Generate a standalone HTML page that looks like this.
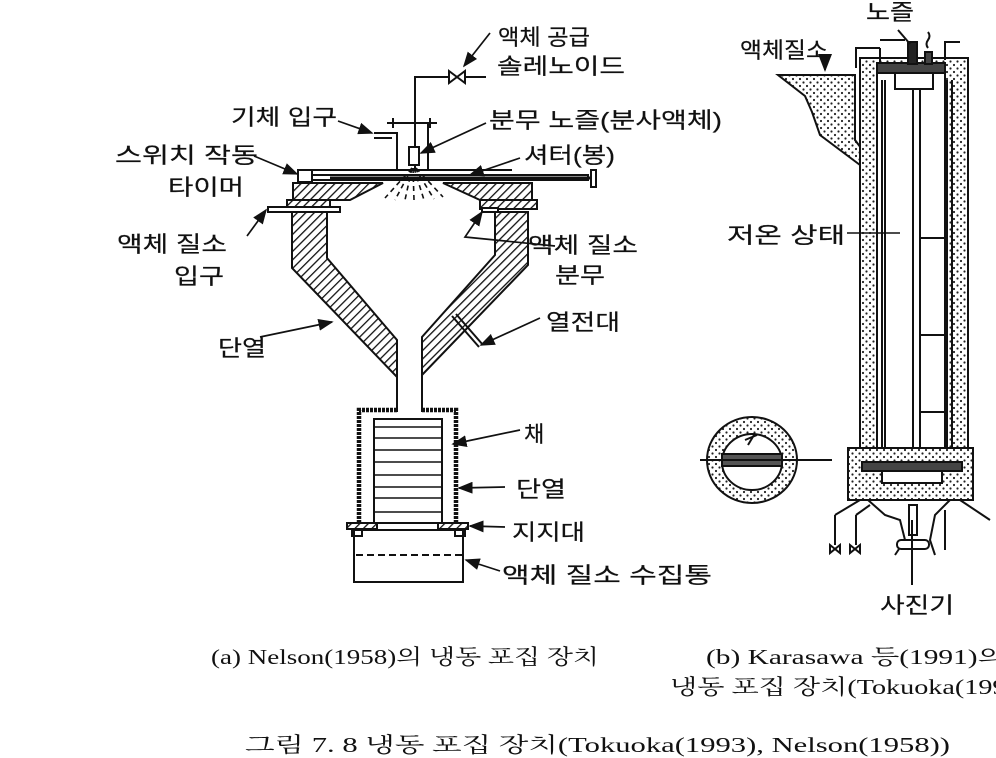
<!DOCTYPE html>
<html><head><meta charset="utf-8"><style>
html,body{margin:0;padding:0;background:#fff}
svg{display:block}
.t{font-family:"Liberation Sans","Noto Sans CJK KR",sans-serif;font-size:22px;fill:#111;stroke:#111;stroke-width:0.2}
.c{font-family:"Liberation Serif","Noto Serif CJK SC",serif;font-size:21px;fill:#111}
</style></head><body>
<svg width="996" height="758" viewBox="0 0 996 758" xmlns="http://www.w3.org/2000/svg">
<defs>
<pattern id="h" width="6" height="6" patternUnits="userSpaceOnUse" patternTransform="rotate(45)"><rect width="6" height="6" fill="#fff"/><line x1="0" y1="0" x2="0" y2="6" stroke="#111" stroke-width="2.6"/></pattern>
<pattern id="d" width="7" height="7" patternUnits="userSpaceOnUse"><rect width="7" height="7" fill="#fff"/><circle cx="2" cy="2" r="1.1" fill="#222"/><circle cx="5.5" cy="5.5" r="1.1" fill="#222"/></pattern>
<marker id="a" markerWidth="9" markerHeight="7" refX="8" refY="3.5" orient="auto"><path d="M0,0 L9,3.5 L0,7z" fill="#111"/></marker>
</defs>
<g stroke="#111" stroke-width="2" fill="none">
<polyline points="415,170 415,77 449,77"/>
<line x1="465" y1="77" x2="486" y2="77"/>
<path d="M449,71 L465,83 L465,71 L449,83z" fill="#fff"/>
<line x1="387" y1="123" x2="437" y2="123"/>
<line x1="393" y1="118" x2="393" y2="128"/><line x1="430" y1="118" x2="430" y2="128"/>
<polyline points="374,133 397,133 397,170"/>
<line x1="374" y1="138" x2="392" y2="138"/>
<polyline points="428,123 428,170"/>
<rect x="409" y="147" width="10" height="18" fill="#fff"/>
<line x1="312" y1="170" x2="512" y2="170"/>
<rect x="298" y="170" width="14" height="12" fill="#fff"/>
<rect x="312" y="175" width="276" height="5" fill="#fff"/>
<line x1="330" y1="178" x2="590" y2="178" stroke-width="3"/>
<rect x="591" y="170" width="5" height="17" fill="#fff"/>
<polygon points="293,183 383,183 350,200 293,200" fill="url(#h)"/>
<polygon points="443,183 532,183 532,200 480,200" fill="url(#h)"/>
<rect x="287" y="200" width="43" height="9" fill="url(#h)"/>
<rect x="480" y="200" width="57" height="9" fill="url(#h)"/>
<rect x="268" y="207" width="72" height="5" fill="#fff"/>
<rect x="482" y="208" width="16" height="4" fill="#fff"/>
<g stroke-width="1.6" stroke-dasharray="5,4">
<line x1="412" y1="168" x2="385" y2="198"/><line x1="412" y1="168" x2="395" y2="200"/><line x1="412" y1="168" x2="405" y2="200"/><line x1="413" y1="168" x2="414" y2="200"/><line x1="414" y1="168" x2="424" y2="200"/><line x1="415" y1="168" x2="434" y2="199"/><line x1="416" y1="168" x2="443" y2="197"/>
</g>
<polygon points="292,212 327,212 327,258 397,340 397,377 292,268" fill="url(#h)"/>
<polygon points="495,212 528,212 528,265 422,375 422,337 495,255" fill="url(#h)"/>
<line x1="397" y1="377" x2="397" y2="412"/><line x1="422" y1="375" x2="422" y2="412"/>
<line x1="452" y1="316" x2="479" y2="347"/><line x1="456" y1="314" x2="483" y2="345"/>
<polyline points="397,410 359,410 359,523" stroke-width="4.5" stroke-dasharray="3,1"/>
<polyline points="422,410 456,410 456,523" stroke-width="4.5" stroke-dasharray="3,1"/>
<rect x="374" y="419" width="68" height="104"/>
<g stroke-width="1.6"><line x1="374" y1="427" x2="442" y2="427"/><line x1="374" y1="438" x2="442" y2="438"/><line x1="374" y1="450" x2="442" y2="450"/><line x1="374" y1="462" x2="442" y2="462"/><line x1="374" y1="475" x2="442" y2="475"/><line x1="374" y1="487" x2="442" y2="487"/><line x1="374" y1="498" x2="442" y2="498"/><line x1="374" y1="512" x2="442" y2="512"/></g>
<rect x="347" y="523" width="30" height="6" fill="url(#h)"/>
<rect x="438" y="523" width="30" height="6" fill="url(#h)"/>
<rect x="352" y="529" width="10" height="7"/><rect x="455" y="529" width="10" height="7"/>
<rect x="354" y="530" width="109" height="52"/>
<line x1="356" y1="555" x2="462" y2="555" stroke-dasharray="7,4"/>
<g stroke-width="1.7" marker-end="url(#a)">
<line x1="490" y1="33" x2="464" y2="66"/>
<line x1="338" y1="121" x2="372" y2="133"/>
<line x1="486" y1="123" x2="421" y2="153"/>
<line x1="254" y1="156" x2="297" y2="174"/>
<line x1="520" y1="158" x2="470" y2="175"/>
<line x1="247" y1="236" x2="266" y2="210"/>
<polyline points="555,246 465,237 482,212"/>
<line x1="260" y1="337" x2="332" y2="322"/>
<line x1="540" y1="318" x2="481" y2="345"/>
<line x1="520" y1="430" x2="453" y2="444"/>
<line x1="505" y1="487" x2="459" y2="488"/>
<line x1="505" y1="527" x2="470" y2="526"/>
<line x1="500" y1="571" x2="466" y2="560"/>
</g>
</g>
<g stroke="#111" stroke-width="2" fill="none">
<polygon points="778,75 848,75 855,75 855,140 870,160 860,165 820,135 812,112 805,96" fill="url(#d)"/>
<rect x="860" y="58" width="108" height="390" fill="url(#d)"/>
<rect x="877" y="73" width="68" height="375" fill="#fff"/>
<line x1="885" y1="80" x2="885" y2="448"/><line x1="945" y1="80" x2="945" y2="448"/>
<line x1="947" y1="80" x2="947" y2="448"/><line x1="952" y1="80" x2="952" y2="448"/>
<line x1="913" y1="90" x2="913" y2="448"/><line x1="920" y1="90" x2="920" y2="448"/>
<line x1="882" y1="80" x2="882" y2="448"/>
<rect x="877" y="63" width="68" height="10" fill="#444"/>
<rect x="895" y="73" width="38" height="16" fill="#fff"/>
<rect x="908" y="42" width="9" height="22" fill="#222"/>
<rect x="925" y="52" width="7" height="12" fill="#444"/>
<polyline points="856,68 856,48 880,48"/><polyline points="880,48 880,62"/>
<polyline points="945,60 945,42 960,42"/>
<line x1="880" y1="40" x2="905" y2="40"/>
<path d="M928,48 q-3,-4 0,-8 q3,-4 0,-8"/>
<line x1="825" y1="60" x2="825" y2="70" marker-end="url(#a)"/>
<line x1="898" y1="30" x2="910" y2="44"/>
<line x1="920" y1="238" x2="945" y2="238" stroke-width="2"/><line x1="920" y1="335" x2="945" y2="335" stroke-width="2"/><line x1="920" y1="412" x2="945" y2="412" stroke-width="2"/>
<rect x="848" y="448" width="125" height="52" fill="url(#d)"/>
<rect x="862" y="462" width="100" height="9" fill="#444"/>
<rect x="882" y="471" width="60" height="12" fill="#fff"/>
<polyline points="868,500 885,515 900,520 905,540 895,555"/>
<polyline points="950,500 935,515 930,540 935,555"/>
<line x1="860" y1="500" x2="835" y2="515"/><line x1="835" y1="515" x2="835" y2="545"/>
<line x1="870" y1="505" x2="856" y2="515"/><line x1="856" y1="515" x2="856" y2="545"/>
<line x1="960" y1="500" x2="990" y2="520"/>
<rect x="909" y="505" width="8" height="30" fill="#fff"/>
<rect x="897" y="540" width="32" height="9" rx="4" fill="#fff"/>
<line x1="912" y1="520" x2="912" y2="585"/>
<line x1="945" y1="510" x2="945" y2="550"/>
<path d="M830,545 l10,8 l0,-8 l-10,8z M850,545 l10,8 l0,-8 l-10,8z" fill="#fff"/>
<line x1="847" y1="233" x2="900" y2="233" stroke-width="1.5"/>
<ellipse cx="752" cy="460" rx="45" ry="43" fill="url(#d)"/>
<ellipse cx="752" cy="462" rx="30" ry="28" fill="#fff"/>
<rect x="722" y="454" width="60" height="12" fill="#555"/>
<line x1="700" y1="460" x2="832" y2="460"/>
<path d="M745,440 l12,-5 M748,445 l6,-10"/>
</g>
<text class="t" x="498" y="45" textLength="92" lengthAdjust="spacingAndGlyphs">액체 공급</text>
<text class="t" x="497" y="74" textLength="128" lengthAdjust="spacingAndGlyphs">솔레노이드</text>
<text class="t" x="231" y="125" textLength="106" lengthAdjust="spacingAndGlyphs">기체 입구</text>
<text class="t" x="489" y="128" textLength="233" lengthAdjust="spacingAndGlyphs">분무 노즐(분사액체)</text>
<text class="t" x="115" y="163" textLength="143" lengthAdjust="spacingAndGlyphs">스위치 작동</text>
<text class="t" x="524" y="163" textLength="91" lengthAdjust="spacingAndGlyphs">셔터(봉)</text>
<text class="t" x="168" y="195" textLength="76" lengthAdjust="spacingAndGlyphs">타이머</text>
<text class="t" x="117" y="252" textLength="110" lengthAdjust="spacingAndGlyphs">액체 질소</text>
<text class="t" x="528" y="253" textLength="110" lengthAdjust="spacingAndGlyphs">액체 질소</text>
<text class="t" x="174" y="284" textLength="50" lengthAdjust="spacingAndGlyphs">입구</text>
<text class="t" x="555" y="283" textLength="50" lengthAdjust="spacingAndGlyphs">분무</text>
<text class="t" x="546" y="330" textLength="74" lengthAdjust="spacingAndGlyphs">열전대</text>
<text class="t" x="218" y="356" textLength="48" lengthAdjust="spacingAndGlyphs">단열</text>
<text class="t" x="524" y="442">채</text>
<text class="t" x="516" y="497" textLength="50" lengthAdjust="spacingAndGlyphs">단열</text>
<text class="t" x="512" y="540" textLength="73" lengthAdjust="spacingAndGlyphs">지지대</text>
<text class="t" x="502" y="583" textLength="210" lengthAdjust="spacingAndGlyphs">액체 질소 수집통</text>
<text class="t" x="866" y="20" textLength="48" lengthAdjust="spacingAndGlyphs">노즐</text>
<text class="t" x="740" y="58" textLength="88" lengthAdjust="spacingAndGlyphs">액체질소</text>
<text class="t" x="727" y="243" textLength="118" lengthAdjust="spacingAndGlyphs">저온 상태</text>
<text class="t" x="880" y="613" textLength="74" lengthAdjust="spacingAndGlyphs">사진기</text>
<text class="c" x="211" y="664" textLength="388" lengthAdjust="spacingAndGlyphs">(a) Nelson(1958)의 냉동 포집 장치</text>
<text class="c" x="706" y="664" textLength="300" lengthAdjust="spacingAndGlyphs">(b) Karasawa 등(1991)의</text>
<text class="c" x="670" y="694" textLength="360" lengthAdjust="spacingAndGlyphs">냉동 포집 장치(Tokuoka(1993)</text>
<text class="c" x="245" y="752" textLength="705" lengthAdjust="spacingAndGlyphs">그림 7. 8   냉동 포집 장치(Tokuoka(1993), Nelson(1958))</text>
</svg>
</body></html>
